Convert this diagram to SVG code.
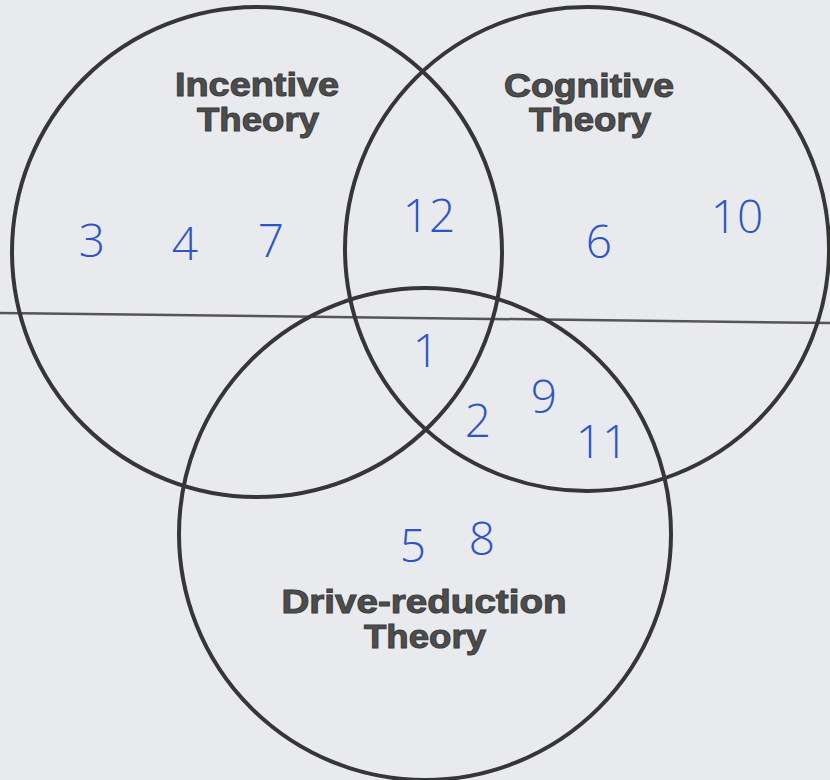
<svg xmlns="http://www.w3.org/2000/svg" width="830" height="780" viewBox="0 0 830 780">
<style>
.ring{fill:none;stroke:#363636;stroke-width:4}
.title{font-family:"Liberation Sans",Arial,sans-serif;font-weight:bold;font-size:33px;fill:#4d4d4d;stroke:#3c3c3c;stroke-width:1;text-anchor:middle}
.hand{font-family:"Open Sans","Liberation Sans",sans-serif;font-weight:300;font-size:46px;fill:#2f55c4;text-anchor:middle}
</style>
<rect width="830" height="780" fill="#e8eaed"/>
<line x1="0" y1="313" x2="830" y2="323" stroke="#555" stroke-width="2.5"/>
<g id="incentive">
<circle class="ring" cx="257" cy="252" r="245"/>
<text class="title" x="257" y="96" textLength="164" lengthAdjust="spacingAndGlyphs">Incentive</text>
<text class="title" x="258" y="131" textLength="122" lengthAdjust="spacingAndGlyphs">Theory</text>
</g>
<g id="cognitive">
<circle class="ring" cx="587" cy="249" r="242"/>
<text class="title" x="589" y="97" textLength="170" lengthAdjust="spacingAndGlyphs">Cognitive</text>
<text class="title" x="590" y="131" textLength="122" lengthAdjust="spacingAndGlyphs">Theory</text>
</g>
<g id="drive-reduction">
<circle class="ring" cx="425" cy="534" r="246"/>
<text class="title" x="424" y="613" textLength="285" lengthAdjust="spacingAndGlyphs">Drive-reduction</text>
<text class="title" x="425" y="648" textLength="122" lengthAdjust="spacingAndGlyphs">Theory</text>
</g>
<g id="marks">
<text class="hand" x="92" y="257">3</text>
<text class="hand" x="185" y="260">4</text>
<text class="hand" x="271" y="257">7</text>
<text class="hand" x="429" y="232">12</text>
<text class="hand" x="599" y="258">6</text>
<text class="hand" x="737" y="233">10</text>
<text class="hand" x="426" y="367">1</text>
<text class="hand" x="544" y="413">9</text>
<text class="hand" x="478" y="437">2</text>
<text class="hand" x="602" y="458">11</text>
<text class="hand" x="413" y="562">5</text>
<text class="hand" x="482" y="555">8</text>
</g>
</svg>
